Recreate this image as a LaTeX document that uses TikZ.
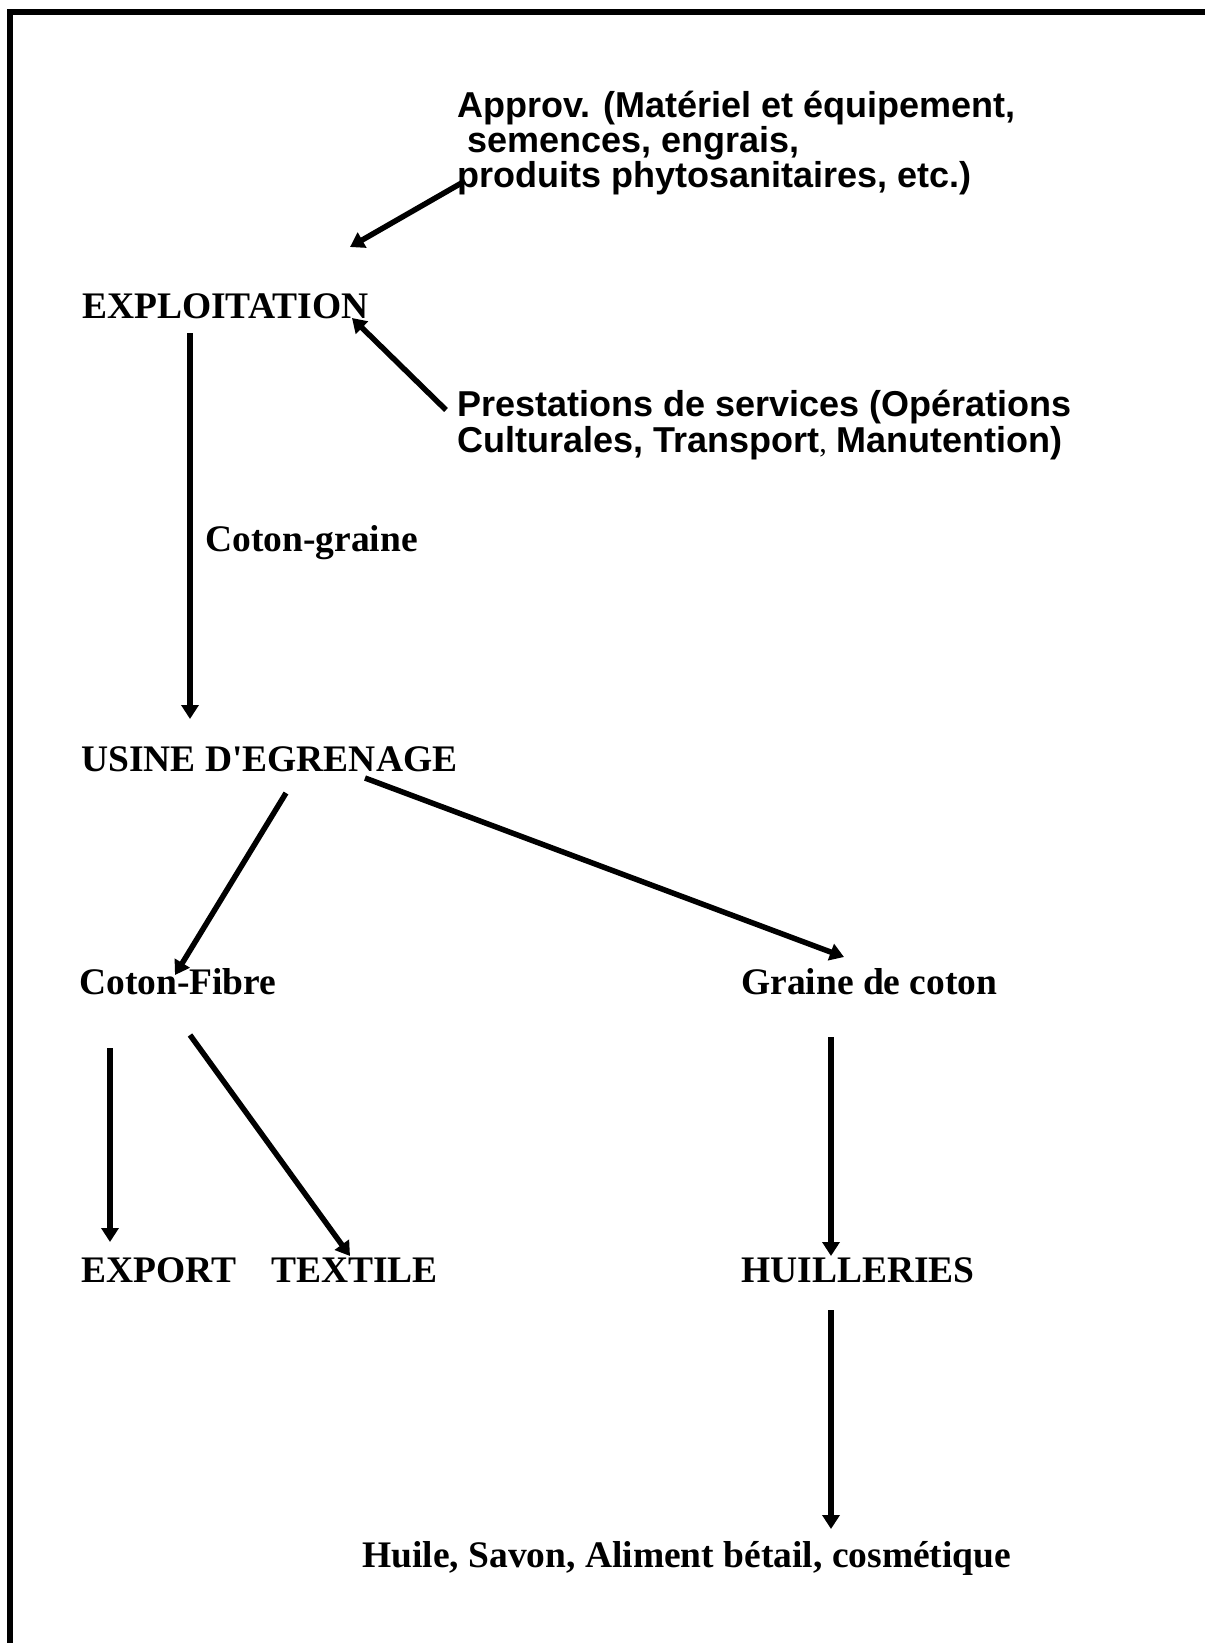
\documentclass[tikz,border=0pt]{standalone}
\usepackage{fontspec}
\setmainfont{Liberation Serif}
\newfontfamily\arialfont{Liberation Sans}
\usetikzlibrary{calc,arrows.meta}
\tikzset{
  lbl/.style={anchor=base west,inner sep=0pt,font=\bfseries\fontsize{37.5}{37.5}\selectfont},
  slbl/.style={anchor=north west,inner sep=0pt,align=left,font=\arialfont\bfseries\fontsize{36}{35}\selectfont},
  flow/.style={line width=5.5pt,-{Triangle[length=14pt,width=17pt]}},
}
\begin{document}
\begin{tikzpicture}[x=1pt,y=-1pt]
  \useasboundingbox (0,0) rectangle (1205,1643);
  % cadre
  \draw[line width=6pt] (10,1643) -- (10,12) -- (1205,12);
  % intrants
  \node[slbl] (approv) at (457,91) {Approv. (Matériel et équipement,\\\ semences, engrais,\\produits phytosanitaires, etc.)};
  \node[slbl,font=\arialfont\bfseries\fontsize{36}{36}\selectfont] (prest) at (457,390)
    {Prestations de services (Opérations\\Culturales, Transport{\normalfont\mdseries\fontsize{30}{30}\selectfont,} Manutention)};
  % filiere
  \node[lbl] (expl) at (82,318) {EXPLOITATION};
  \node[lbl] (cgraine) at (205,551) {Coton-graine};
  \node[lbl] (usine) at (81,771) {USINE D\textquotesingle EGRENAGE};
  \node[lbl] (cfibre) at (79,994) {Coton-Fibre};
  \node[lbl] (gcoton) at (741,994) {Graine de coton};
  \node[lbl] (export) at (81,1282) {EXPORT};
  \node[lbl] (textile) at (271,1282) {TEXTILE};
  \node[lbl] (huil) at (741,1282) {HUILLERIES};
  \node[lbl] (huile) at (362,1567) {Huile, Savon, Aliment bétail, cosmétique};
  % fleches
  \draw[flow] ($(approv.north west)+(8,90)$) -- ($(expl.base west)+(268,-71)$);
  \draw[flow] ($(prest.north west)+(-11,20)$) -- ($(expl.base west)+(270,0)$);
  \draw[flow] ($(expl.base west)+(108,15)$) -- ($(usine.base west)+(109,-52)$);
  \draw[flow] ($(usine.base west)+(205,22)$) -- ($(cfibre.base west)+(96,-19)$);
  \draw[flow] ($(usine.base west)+(284,7)$) -- ($(gcoton.base west)+(103,-37)$);
  \draw[flow] ($(cfibre.base west)+(31,54)$) -- ($(export.base west)+(29,-40)$);
  \draw[flow] ($(cfibre.base west)+(111,41)$) -- ($(textile.base west)+(79,-26)$);
  \draw[flow] ($(gcoton.base west)+(90,43)$) -- ($(huil.base west)+(90,-26)$);
  \draw[flow] ($(huil.base west)+(90,28)$) -- ($(huile.base west)+(469,-38)$);
\end{tikzpicture}
\end{document}
